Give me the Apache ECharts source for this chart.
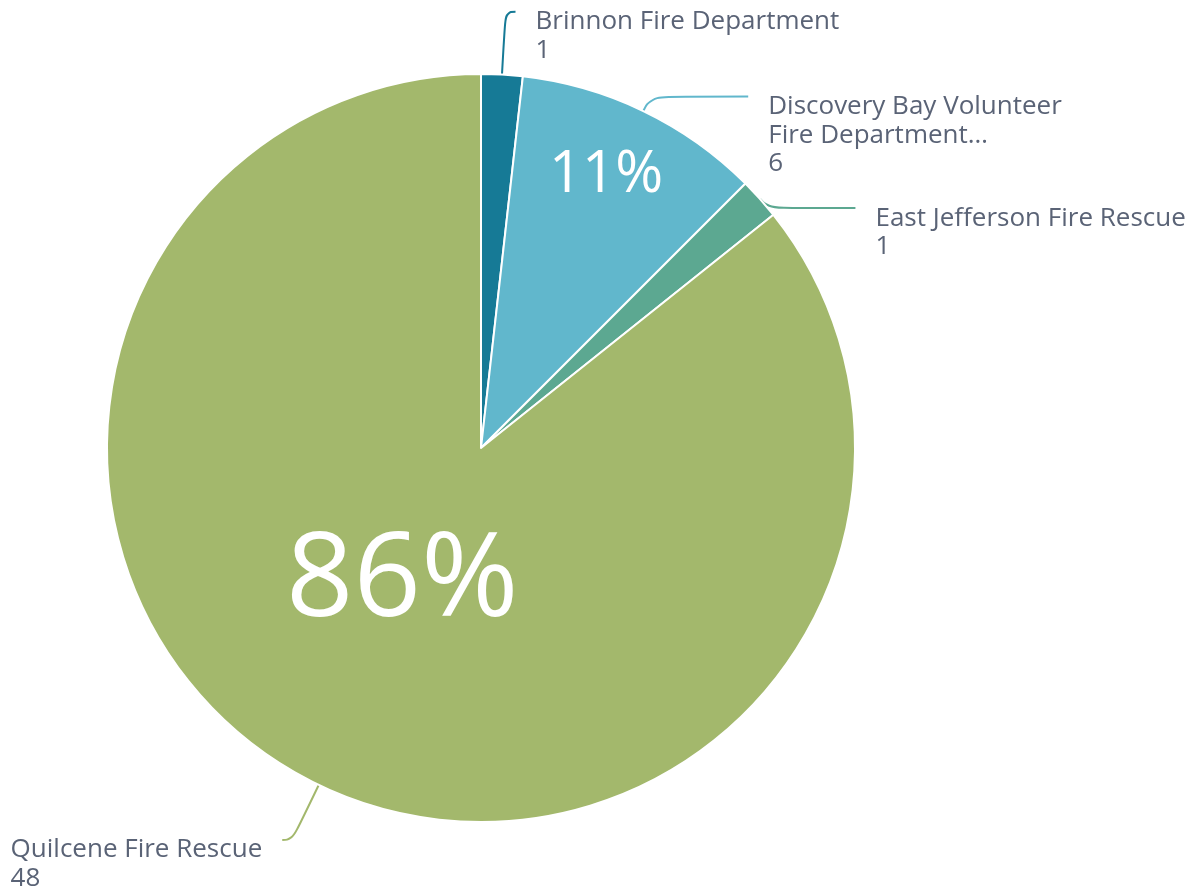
<!DOCTYPE html>
<html><head><meta charset="utf-8">
<script src="https://cdn.jsdelivr.net/npm/echarts@6/dist/echarts.min.js"></script>
<style>html,body{margin:0;padding:0;background:#fff}#c{width:1204px;height:892px}</style>
</head><body><div id="c"></div>
<script>
// ---- data ----
const categories = ['Brinnon Fire Department', 'Discovery Bay Volunteer Fire Department', 'East Jefferson Fire Rescue', 'Quilcene Fire Rescue'];
const labelNames = ['Brinnon Fire Department', 'Discovery Bay Volunteer\nFire Department\u2026', 'East Jefferson Fire Rescue', 'Quilcene Fire Rescue'];
const values = [1, 6, 1, 48];

// ---- style ----
const palette = ['#167a96', '#61b7cc', '#5ca891', '#a3b86c'];
const textColor = '#5a6376';
const FONT = "'Open Sans', 'Noto Sans', sans-serif";
const FS = 26;
const LH = 28.5;
// label line lengths per slice (style)
const lineStyleCfg = [
  { length: 63, length2: 10 },
  { length: 16, length2: 98 },
  { length: -14, length2: 106 },
  { length: 61, length2: 10 }
];
const CENTER = [481, 448];
const R = 374;
const total = values.reduce((a, b) => a + b, 0);

const mainData = categories.map((c, i) => {
  const nLines = labelNames[i].split('\n').length + 1;
  return {
    name: c,
    value: values[i],
    itemStyle: { color: palette[i] },
    label: { padding: [20 + (nLines - 1) * LH, 0, 0, 0] },
    labelLine: { length: lineStyleCfg[i].length, length2: lineStyleCfg[i].length2, lineStyle: { color: palette[i] } }
  };
});

function innerData(pred, size, pad) {
  return categories.map((c, i) => {
    const pct = values[i] / total * 100;
    return {
      name: c, value: values[i],
      itemStyle: { color: 'transparent', borderWidth: 0 },
      label: { show: pred(pct), fontSize: size, padding: pad }
    };
  });
}

const innerCommon = {
  type: 'pie', center: CENTER, silent: true, startAngle: 90, clockwise: true,
  avoidLabelOverlap: false, labelLine: { show: false }, emphasis: { disabled: true },
  labelLayout: { hideOverlap: false },
  label: {
    position: 'inside', color: '#fff', fontFamily: FONT, fontWeight: 'normal',
    formatter: p => Math.round(p.percent) + '%'
  }
};

const option = {
  animation: false,
  backgroundColor: '#fff',
  series: [
    {
      type: 'pie', center: CENTER, radius: [0, R], startAngle: 90, clockwise: true,
      avoidLabelOverlap: false, silent: true,
      itemStyle: { borderColor: '#fff', borderWidth: 2 },
      labelLayout: { hideOverlap: false },
      label: {
        show: true, position: 'outside', color: textColor, fontFamily: FONT,
        fontSize: FS, lineHeight: LH, distanceToLabelLine: 20, overflow: 'none',
        formatter: p => {
          const i = categories.indexOf(p.name);
          return '{t|' + labelNames[i].split('\n').join('}\n{t|') + '}\n{t|' + p.value + '}';
        },
        rich: { t: { align: 'left', color: textColor, fontFamily: FONT, fontSize: FS, lineHeight: LH } }
      },
      labelLine: { show: true, smooth: 0.5, lineStyle: { width: 2 } },
      data: mainData
    },
    Object.assign({}, innerCommon, { radius: [0, 292], data: innerData(p => p > 50, 118, [0, 28, 0, 0]) }),
    Object.assign({}, innerCommon, { radius: [0, 598], data: innerData(p => p >= 5 && p <= 50, 58, [0, 12, 4, 0]) })
  ]
};
const chart = echarts.init(document.getElementById('c'), null, { renderer: 'canvas' });
chart.setOption(option);
</script></body></html>
